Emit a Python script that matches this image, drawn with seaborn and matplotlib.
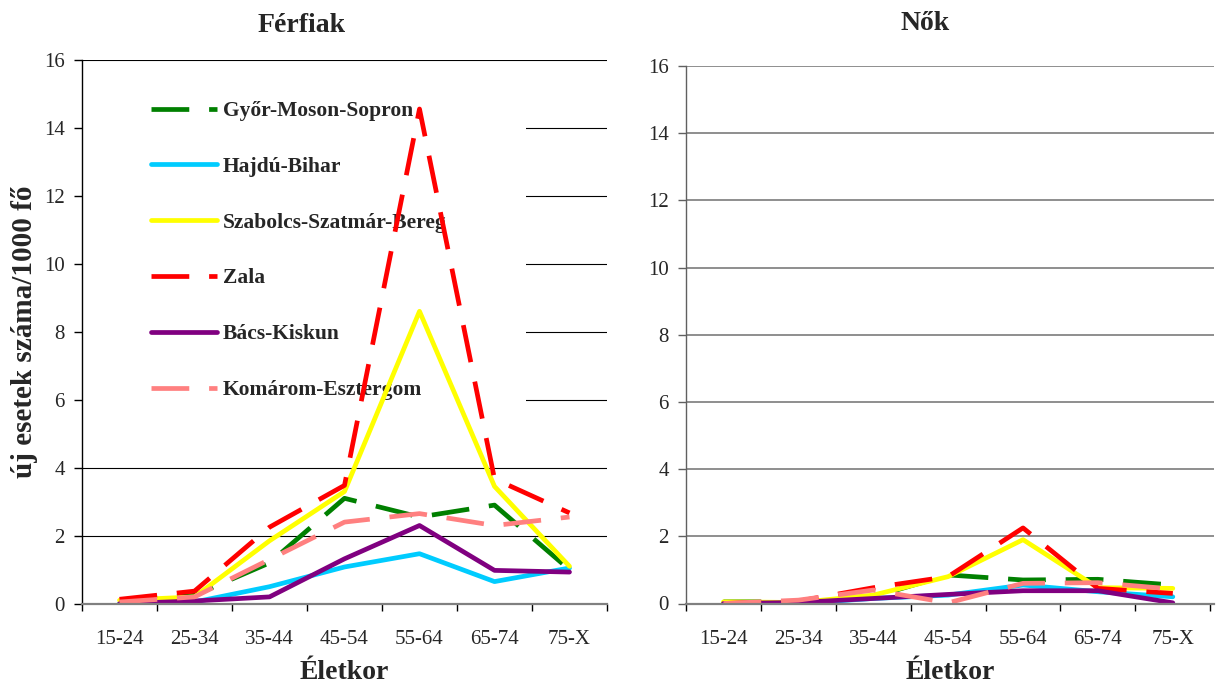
import numpy as np
import pandas as pd
import matplotlib
matplotlib.use("Agg")
import matplotlib.pyplot as plt
from matplotlib.patches import Rectangle
from matplotlib.lines import Line2D
import seaborn as sns

# ---------------- data ----------------
age_groups = ["15-24", "25-34", "35-44", "45-54", "55-64", "65-74", "75-X"]
counties = ["Győr-Moson-Sopron", "Hajdú-Bihar", "Szabolcs-Szatmár-Bereg",
            "Zala", "Bács-Kiskun", "Komárom-Esztergom"]

# Férfiak (men)
men_gyor = [0.10, 0.25, 1.20, 3.10, 2.55, 2.90, 1.00]
men_hajdu = [0.00, 0.05, 0.50, 1.08, 1.47, 0.65, 1.05]
men_szabolcs = [0.10, 0.20, 1.85, 3.30, 8.60, 3.45, 1.10]
men_zala = [0.13, 0.37, 2.25, 3.48, 14.55, 3.67, 2.67]
men_bacs = [0.00, 0.08, 0.20, 1.32, 2.30, 0.98, 0.93]
men_komarom = [0.05, 0.20, 1.30, 2.40, 2.65, 2.30, 2.55]

# Nők (women)
women_gyor = [0.05, 0.05, 0.20, 0.85, 0.70, 0.72, 0.55]
women_hajdu = [0.00, 0.00, 0.15, 0.25, 0.55, 0.35, 0.20]
women_szabolcs = [0.05, 0.03, 0.25, 0.80, 1.90, 0.47, 0.45]
women_zala = [0.00, 0.07, 0.47, 0.80, 2.25, 0.45, 0.30]
women_bacs = [0.00, 0.03, 0.15, 0.27, 0.38, 0.38, 0.02]
women_komarom = [0.00, 0.10, 0.40, 0.02, 0.60, 0.62, 0.43]

titles = ["Férfiak", "Nők"]
x_label = "Életkor"
y_label = "új esetek száma/1000 fő"

men = [men_gyor, men_hajdu, men_szabolcs, men_zala, men_bacs, men_komarom]
women = [women_gyor, women_hajdu, women_szabolcs, women_zala, women_bacs, women_komarom]

# ---------------- styles ----------------
colors = {"Győr-Moson-Sopron": "#008000", "Hajdú-Bihar": "#00CCFF",
          "Szabolcs-Szatmár-Bereg": "#FFFF00", "Zala": "#FF0000",
          "Bács-Kiskun": "#800080", "Komárom-Esztergom": "#FF8080"}
dash_pat = (8, 4.2)
dashes = {"Győr-Moson-Sopron": dash_pat, "Hajdú-Bihar": "",
          "Szabolcs-Szatmár-Bereg": "", "Zala": dash_pat,
          "Bács-Kiskun": "", "Komárom-Esztergom": dash_pat}
LW = 3.4


def long_frame(series_list):
    rows = []
    for name, vals in zip(counties, series_list):
        for age, v in zip(age_groups, vals):
            rows.append({"county": name, "age": age, "value": v})
    return pd.DataFrame(rows)


sns.set_style("white")
plt.rcParams["font.family"] = ["Liberation Serif", "DejaVu Serif"]

fig = plt.figure(figsize=(12.16, 6.88), dpi=100)
W, H = 1216, 688
ax_l = fig.add_axes([82 / W, 1 - 603.7 / H, 525 / W, 544 / H])
ax_r = fig.add_axes([686 / W, 1 - 603.5 / H, 528 / W, 537.5 / H])

for ax, data, grid_col, grid_lw, spine_col in [
        (ax_l, men, "#000000", 0.8, "#000000"),
        (ax_r, women, "#707070", 1.1, "#606060")]:
    df = long_frame(data)
    sns.lineplot(data=df, x="age", y="value", hue="county", style="county",
                 hue_order=counties, style_order=counties, palette=colors,
                 dashes=dashes, linewidth=LW, legend=False, sort=False,
                 errorbar=None, ax=ax)
    for ln in ax.lines:
        ln.set_solid_capstyle("round")
        ln.set_solid_joinstyle("round")
        ln.set_dash_capstyle("butt")
        ln.set_dash_joinstyle("round")
        ln.set_zorder(2)
    ax.set_ylim(0, 16)
    ax.set_yticks(np.arange(0, 17, 2))
    ax.set_xticks(range(len(age_groups)))
    ax.set_xticklabels(age_groups)
    ax.set_xticks(np.arange(-0.5, len(age_groups), 1), minor=True)
    ax.tick_params(axis="x", which="major", length=0, pad=19, labelsize=15)
    ax.tick_params(axis="x", which="minor", length=5, width=1, color="black",
                   direction="out", bottom=True)
    ax.tick_params(axis="y", which="major", length=5.5, width=1,
                   color=spine_col, direction="out", left=True, pad=7,
                   labelsize=15)
    ax.set_axisbelow(True)
    ax.yaxis.grid(True, color=grid_col, linewidth=grid_lw)
    ax.xaxis.grid(False)
    for s in ["top", "right"]:
        ax.spines[s].set_visible(False)
    ax.spines["left"].set_color(spine_col)
    ax.spines["left"].set_linewidth(1.0)
    ax.spines["bottom"].set_color("#808080")
    ax.spines["bottom"].set_linewidth(1.6)
    ax.set_xlabel(x_label, fontsize=20, fontweight="bold", labelpad=8)
    ax.set_ylabel("")
    ax.set_facecolor("none")

ax_l.set_xlim(-0.5, 6.5)
ax_r.set_xlim(-0.5, 6.55)

ax_l.set_ylabel(y_label, fontsize=21, fontweight="bold", labelpad=4)

fig.text(302 / W, 1 - 25 / H, titles[0], fontsize=20, fontweight="bold",
         ha="center", va="center")
fig.text(925 / W, 1 - 23 / H, titles[1], fontsize=20, fontweight="bold",
         ha="center", va="center")

# white legend area (hides gridlines behind the legend)
ax_l.add_patch(Rectangle((0, 4.5 / 16), 0.846, 11 / 16, transform=ax_l.transAxes,
                         facecolor="white", edgecolor="none", zorder=1.5))

handles = [Line2D([], [], color=colors[c], linewidth=LW,
                  dashes=dashes[c] if dashes[c] else (None, None),
                  solid_capstyle="round", dash_capstyle="butt")
           for c in counties]
leg = ax_l.legend(handles, counties, loc="upper left",
                  bbox_to_anchor=(151 / W, 1 - 101 / H),
                  bbox_transform=fig.transFigure, frameon=False,
                  borderpad=0, borderaxespad=0, handlelength=3.05,
                  handletextpad=0.28, labelspacing=1.66,
                  prop={"family": "Liberation Serif", "weight": "bold",
                        "size": 15.5})
leg.set_zorder(1.6)

fig.savefig("out.png", dpi=100, facecolor="white")
